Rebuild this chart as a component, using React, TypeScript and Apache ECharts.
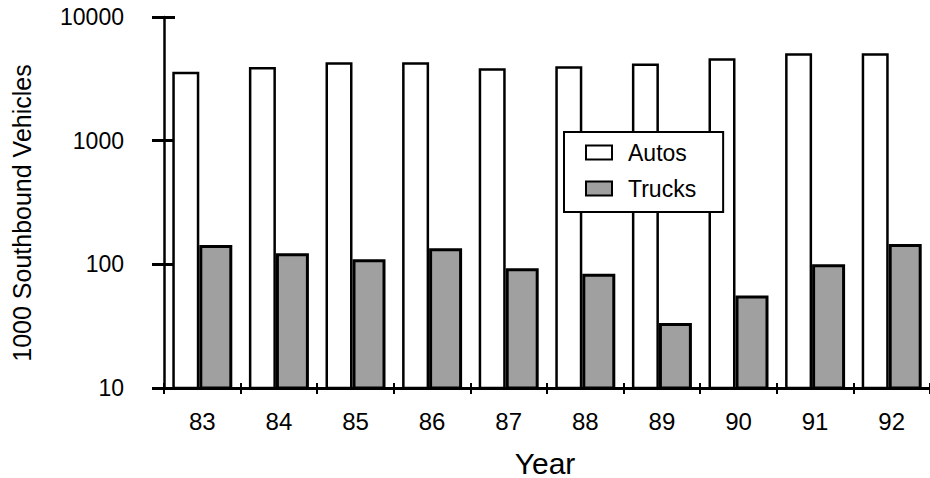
import React, { useEffect, useRef } from "react";
import * as echarts from "echarts";

const years = ["83", "84", "85", "86", "87", "88", "89", "90", "91", "92"];
const autos = [3600, 3950, 4300, 4300, 3850, 4000, 4200, 4650, 5100, 5100];
const trucks = [143, 123, 110, 135, 93, 84, 33.5, 56, 100, 146];
const yMin = 10;
const yMax = 10000;
const yTitle = "1000 Southbound Vehicles";
const xTitle = "Year";

const FONT = "'Liberation Sans', Arial, Helvetica, sans-serif";

export default function App() {
  const ref = useRef<HTMLDivElement>(null);
  useEffect(() => {
    document.body.style.margin = "0";
    const chart = echarts.init(ref.current!, null, { renderer: "svg" });
    const tickAxisY = {
      type: "log",
      logBase: 10,
      min: yMin,
      max: yMax,
      position: "left",
      splitLine: { show: false },
    } as any;
    chart.setOption({
      animation: false,
      backgroundColor: "#ffffff",
      grid: { left: 164, right: -4, top: 17, bottom: 90, containLabel: false },
      legend: {
        orient: "vertical",
        left: 564,
        top: 132,
        backgroundColor: "#ffffff",
        borderColor: "#000000",
        borderWidth: 2,
        borderRadius: 0,
        padding: [9, 27, 12, 21],
        itemWidth: 26,
        itemHeight: 14,
        itemGap: 13,
        icon: "rect",
        textStyle: {
          fontFamily: FONT,
          fontSize: 23,
          color: "#000000",
          padding: [0, 0, 0, 11],
        },
        data: ["Autos", "Trucks"],
      },
      xAxis: [
        {
          type: "category",
          data: years,
          axisLine: { show: true, lineStyle: { color: "#000", width: 3 } },
          axisTick: { show: true, length: 6, alignWithLabel: false, lineStyle: { color: "#000", width: 2 } },
          axisLabel: { fontFamily: FONT, fontSize: 24, color: "#000", margin: 21 },
        },
        {
          type: "category",
          data: years,
          position: "bottom",
          axisLine: { show: false },
          axisTick: { show: true, inside: true, length: 5, alignWithLabel: false, lineStyle: { color: "#000", width: 2 } },
          axisLabel: { show: false },
        },
      ],
      yAxis: [
        {
          ...tickAxisY,
          axisLine: { show: true, lineStyle: { color: "#000", width: 2.5 } },
          axisTick: { show: true, length: 12, lineStyle: { color: "#000", width: 3 } },
          axisLabel: {
            fontFamily: FONT,
            fontSize: 23,
            color: "#000",
            margin: 40,
            formatter: (v: number) => String(Math.round(v)),
          },
        },
        {
          ...tickAxisY,
          axisLine: { show: false },
          axisTick: { show: true, inside: true, length: 11, lineStyle: { color: "#000", width: 3 } },
          axisLabel: { show: false },
        },
      ],
      series: [
        {
          name: "Autos",
          type: "bar",
          data: autos,
          barWidth: 27,
          barGap: "0%",
          itemStyle: { color: "#ffffff", borderColor: "#000000", borderWidth: 2.5 },
        },
        {
          name: "Trucks",
          type: "bar",
          data: trucks,
          barWidth: 33,
          barGap: "0%",
          itemStyle: { color: "#a0a0a0", borderColor: "#000000", borderWidth: 3 },
        },
      ],
      graphic: [
        {
          type: "text",
          x: 22,
          y: 213,
          rotation: Math.PI / 2,
          style: {
            text: yTitle,
            font: `25px ${FONT}`,
            fill: "#000",
            textAlign: "center",
            textVerticalAlign: "middle",
          },
        },
        {
          type: "text",
          x: 545,
          y: 463,
          style: {
            text: xTitle,
            font: `30px ${FONT}`,
            fill: "#000",
            textAlign: "center",
            textVerticalAlign: "middle",
          },
        },
      ],
    });
    return () => chart.dispose();
  }, []);
  return <div ref={ref} style={{ width: 930, height: 478 }} />;
}
